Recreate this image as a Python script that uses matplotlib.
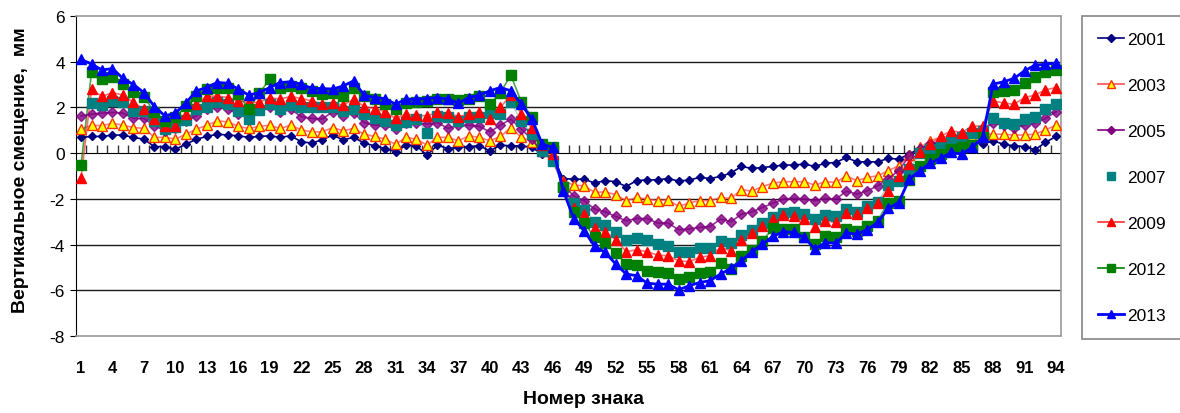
import matplotlib
matplotlib.use("Agg")
import matplotlib.pyplot as plt
from matplotlib.lines import Line2D
from matplotlib.ticker import NullFormatter

plt.rcParams['font.family'] = ['Liberation Sans', 'DejaVu Sans']
plt.rcParams['axes.unicode_minus'] = False

marks = list(range(1, 95))
nan = float('nan')

y2001 = [0.69, 0.73, 0.73, 0.79, 0.79, 0.69, 0.61, 0.28, 0.29, 0.17, 0.39, 0.61, 0.73, 0.83, 0.79, 0.76,
         0.69, 0.73, 0.76, 0.69, 0.76, 0.5, 0.44, 0.58, 0.79, 0.58, 0.69, 0.44, 0.32, 0.2, 0.06, 0.35,
         0.32, -0.09, 0.35, 0.2, 0.25, 0.29, 0.32, 0.1, 0.35, 0.32, 0.32, 0.25, -0.04, -0.19,
         -1.11, -1.14, -1.14, -1.31, -1.2, -1.25, -1.46, -1.2, -1.17, -1.17, -1.11,
         -1.22, -1.18, -1.06, -1.11, -1.02, -0.87, -0.58, -0.67, -0.63, -0.58, -0.52, -0.52, -0.48, -0.58, -0.44, -0.41, -0.19,
         -0.38, -0.38, -0.38, -0.23, -0.26, -0.04, 0.2, 0.39, 0.44, 0.5, 0.54, 0.47, 0.39, 0.54, 0.39, 0.32, 0.29, 0.15, 0.47, 0.73]

y2003 = [1.05, 1.22, 1.2, 1.31, 1.22, 1.12, 1.08, 0.69, 0.69, 0.61, 0.83, 1.05, 1.22, 1.41, 1.37, 1.17,
         1.08, 1.17, 1.22, 1.08, 1.22, 1.02, 0.93, 0.93, 1.12, 0.98, 1.08, 0.83, 0.73, 0.61, 0.39, 0.69,
         0.61, 0.35, 0.69, 0.69, 0.54, 0.76, 0.69, 0.54, 0.73, 1.12, 0.69, 0.5, 0.1, -0.15,
         -1.2, -1.4, -1.43, -1.72, -1.69, -1.82, -2.08, -1.94, -2.01, -2.08, -2.04,
         -2.33, -2.18, -2.08, -2.08, -1.94, -1.98, -1.6, -1.66, -1.46, -1.31, -1.25, -1.25, -1.25, -1.4, -1.25, -1.28, -0.99,
         -1.21, -1.06, -0.99, -0.77, -0.55, -0.09, 0.25, 0.54, 0.69, 0.73, 0.64, 0.69, 0.83, 0.83, 0.83, 0.79, 0.79, 0.83, 1.02, 1.22]

y2005 = [1.63, 1.7, 1.75, 1.78, 1.75, 1.52, 1.52, 1.2, 0.98, 1.12, 1.41, 1.63, 1.92, 2.0, 1.92, 1.72,
         1.85, 1.9, 2.04, 1.78, 1.92, 1.6, 1.52, 1.49, 1.81, 1.63, 1.75, 1.34, 1.22, 1.22, 1.05, 1.3,
         1.34, 1.27, 1.34, 1.08, 1.22, 1.22, 1.17, 0.93, 1.22, 1.49, 1.05, 0.61, 0.03, -0.3,
         -1.4, -1.87, -2.08, -2.45, -2.57, -2.77, -2.96, -2.86, -2.86, -3.06, -3.06,
         -3.35, -3.32, -3.25, -3.21, -2.89, -3.0, -2.67, -2.57, -2.38, -2.19, -2.01, -1.98, -2.01, -2.08, -1.98, -2.01, -1.67,
         -1.79, -1.65, -1.43, -1.11, -0.77, -0.12, 0.2, 0.39, 0.54, 0.73, 0.83, 0.93, 1.05, 1.31, 1.22, 1.12, 1.22, 1.31, 1.52, 1.81]

y2007 = [nan, 2.19, 2.1, 2.26, 2.22, 1.85, 1.85, 1.41, 1.05, 1.15, 1.46, 1.92, 2.0, 2.22, 2.14, 1.85,
         1.49, 1.9, 2.14, 1.95, 2.1, 2.0, 2.0, 2.0, 2.04, 1.85, 1.95, 1.7, 1.52, 1.41, 1.22, 1.35,
         1.49, 0.9, 1.63, 1.6, 1.41, 1.56, 1.6, 1.75, 1.7, 2.22, 1.41, 0.83, 0.1, -0.34,
         -1.5, -2.19, -2.48, -3.0, -3.15, -3.44, -3.79, -3.73, -3.79, -3.98, -4.08,
         -4.34, -4.31, -4.17, -4.17, -3.83, -3.94, -3.59, -3.35, -3.06, -2.81, -2.62, -2.59, -2.67, -2.86, -2.71, -2.77, -2.45,
         -2.57, -2.3, -2.13, -1.4, -1.21, -0.7, 0.0, 0.17, 0.29, 0.5, 0.69, 0.9, 0.98, 1.52, 1.34, 1.27, 1.49, 1.6, 1.92, 2.17]

y2009 = [-1.1, 2.8, 2.48, 2.65, 2.54, 2.22, 1.92, 1.49, 1.2, 1.2, 1.7, 2.14, 2.48, 2.5, 2.43, 2.29,
         2.22, 2.22, 2.43, 2.36, 2.48, 2.39, 2.29, 2.14, 2.19, 2.1, 2.36, 2.04, 1.95, 1.81, 1.52, 1.7,
         1.66, 1.63, 1.78, 1.75, 1.6, 1.7, 1.81, 1.49, 2.0, 2.54, 1.7, 1.08, 0.35, -0.04,
         -1.3, -2.38, -2.67, -3.29, -3.44, -3.79, -4.31, -4.23, -4.31, -4.46, -4.49,
         -4.71, -4.75, -4.56, -4.49, -4.13, -4.27, -3.79, -3.5, -3.18, -2.86, -2.71, -2.77, -2.86, -3.21, -2.96, -3.03, -2.63,
         -2.67, -2.42, -2.16, -1.65, -0.99, -0.48, 0.03, 0.39, 0.73, 0.98, 0.9, 1.17, 1.2, 2.29, 2.19, 2.14, 2.43, 2.54, 2.77, 2.87]

y2012 = [-0.52, 3.56, 3.24, 3.34, 3.02, 2.68, 2.46, 1.81, 1.41, 1.56, 2.07, 2.5, 2.8, 2.87, 2.84, 2.58,
         1.92, 2.62, 3.24, 2.87, 2.94, 2.83, 2.73, 2.58, 2.62, 2.5, 2.87, 2.5, 2.39, 2.14, 1.95, 2.2,
         2.22, 2.29, 2.36, 2.36, 2.33, 2.39, 2.48, 2.14, 2.65, 3.41, 2.24, 1.59, 0.39, 0.25,
         -1.5, -2.57, -3.06, -3.69, -3.91, -4.37, -4.85, -4.9, -5.15, -5.22, -5.25,
         -5.5, -5.44, -5.25, -5.22, -4.81, -5.07, -4.52, -4.23, -3.83, -3.29, -3.32, -3.32, -3.69, -3.98, -3.64, -3.69, -3.33,
         -3.4, -3.18, -2.96, -2.16, -2.08, -1.17, -0.55, -0.26, -0.04, 0.2, 0.25, 0.35, 0.69, 2.68, 2.73, 2.77, 3.09, 3.35, 3.56, 3.64]

y2013 = [4.1, 3.9, 3.64, 3.7, 3.27, 3.0, 2.65, 2.04, 1.63, 1.75, 2.19, 2.73, 2.87, 3.09, 3.06, 2.8,
         2.54, 2.65, 2.87, 3.09, 3.12, 3.02, 2.83, 2.83, 2.8, 2.94, 3.16, 2.54, 2.43, 2.39, 2.14, 2.36,
         2.36, 2.39, 2.43, 2.36, 2.19, 2.43, 2.54, 2.73, 2.87, 2.73, 2.14, 1.49, 0.39, 0.25,
         -1.65, -2.86, -3.4, -4.08, -4.34, -4.85, -5.29, -5.36, -5.69, -5.73, -5.73,
         -5.98, -5.8, -5.66, -5.58, -5.29, -5.04, -4.71, -4.31, -3.98, -3.64, -3.44, -3.47, -3.69, -4.2, -3.91, -3.94, -3.5,
         -3.54, -3.35, -3.03, -2.42, -2.16, -1.14, -0.77, -0.44, -0.23, 0.03, -0.04, 0.25, 0.69, 3.02, 3.12, 3.27, 3.6, 3.85, 3.89, 3.94]

fig = plt.figure(figsize=(11.8, 4.14), dpi=100)
ax = fig.add_axes([76 / 1180, 1 - 337 / 414, (1061 - 76) / 1180, 320 / 414])

# horizontal grid
for g in [-6, -4, -2, 2, 4]:
    ax.axhline(g, color='#1a1a1a', lw=1.0, zorder=0)

ax.plot(marks, y2001, color='#000080', lw=1.2, marker='D', ms=4.5, zorder=3)
ax.plot(marks, y2003, color='#ff5050', lw=1.2, alpha=0.75, zorder=2)
ax.plot(marks, y2003, ls='none', marker='^', ms=6.5, mfc='#ffff00', mec='#ff3300', mew=1.0, zorder=3)
ax.plot(marks, y2005, color='#800080', lw=1.2, alpha=0.8, marker='D', ms=5, zorder=3)
ax.plot(marks, y2007, color='#008080', lw=1.0, alpha=0.35, zorder=2)
ax.plot(marks, y2007, ls='none', color='#008080', marker='s', ms=6.5, zorder=3)
ax.plot(marks, y2009, color='#ff3030', lw=1.2, alpha=0.7, zorder=2)
ax.plot(marks, y2009, ls='none', color='#ff0000', marker='^', ms=7, zorder=3)
ax.plot(marks, y2012, color='#008000', lw=1.2, alpha=0.7, zorder=2)
ax.plot(marks, y2012, ls='none', color='#008000', marker='s', ms=6.5, zorder=3)
ax.plot(marks, y2013, color='#0000ff', lw=2.0, marker='^', ms=7, zorder=4)

ax.set_xlim(0.52, 94.48)
ax.set_ylim(-8, 6)
ax.set_yticks(range(-8, 7, 2))
ax.set_xticks(range(1, 95, 3))
ax.tick_params(axis='x', length=0, labelsize=12, pad=17)
for t in ax.get_xticklabels():
    t.set_fontweight('bold')
ax.tick_params(axis='y', length=4, labelsize=12.5, pad=4)

ax.spines['left'].set_color('black')
for s in ['top', 'right', 'bottom']:
    ax.spines[s].set_color('#999999')
    ax.spines[s].set_linewidth(1.2)

# category axis crossing at zero, ticks between categories
ax0 = ax.secondary_xaxis(8 / 14)
ax0.set_xticks([k + 0.5 for k in range(1, 94)])
ax0.xaxis.set_major_formatter(NullFormatter())
ax0.tick_params(axis='x', direction='out', length=6, width=1, color='#333333')
ax0.spines['bottom'].set_color('black')
ax0.spines['bottom'].set_linewidth(1.2)

ax.set_xlabel('Номер знака', fontsize=14, fontweight='bold')
ax.xaxis.set_label_coords(0.515, -0.17)
ax.set_ylabel('Вертикальное смещение,  мм', fontsize=14, fontweight='bold')
ax.yaxis.set_label_coords(-0.048, 0.52)

handles = [
    Line2D([], [], color='#000080', lw=1.2, marker='D', ms=4),
    Line2D([], [], color='#ff5050', lw=1.2, marker='^', ms=6, mfc='#ffff00', mec='#ff3300'),
    Line2D([], [], color='#800080', lw=1.2, marker='D', ms=4.5),
    Line2D([], [], ls='none', color='#008080', marker='s', ms=6),
    Line2D([], [], color='#ff3030', lw=1.2, marker='^', ms=6, mfc='#ff0000', mec='#ff0000'),
    Line2D([], [], color='#008000', lw=1.2, marker='s', ms=6),
    Line2D([], [], color='#0000ff', lw=2.0, marker='^', ms=6),
]
labels = ['2001', '2003', '2005', '2007', '2009', '2012', '2013']
leg = fig.legend(handles, labels, loc='upper left', bbox_to_anchor=(1082 / 1180, 1 - 17 / 414),
                 fontsize=12.5, frameon=True, fancybox=False, edgecolor='#666666',
                 labelspacing=1.78, handlelength=1.5, handletextpad=0.2, borderpad=0.9,
                 borderaxespad=0)
leg.get_frame().set_linewidth(1.2)

fig.savefig('out.png', dpi=100)
